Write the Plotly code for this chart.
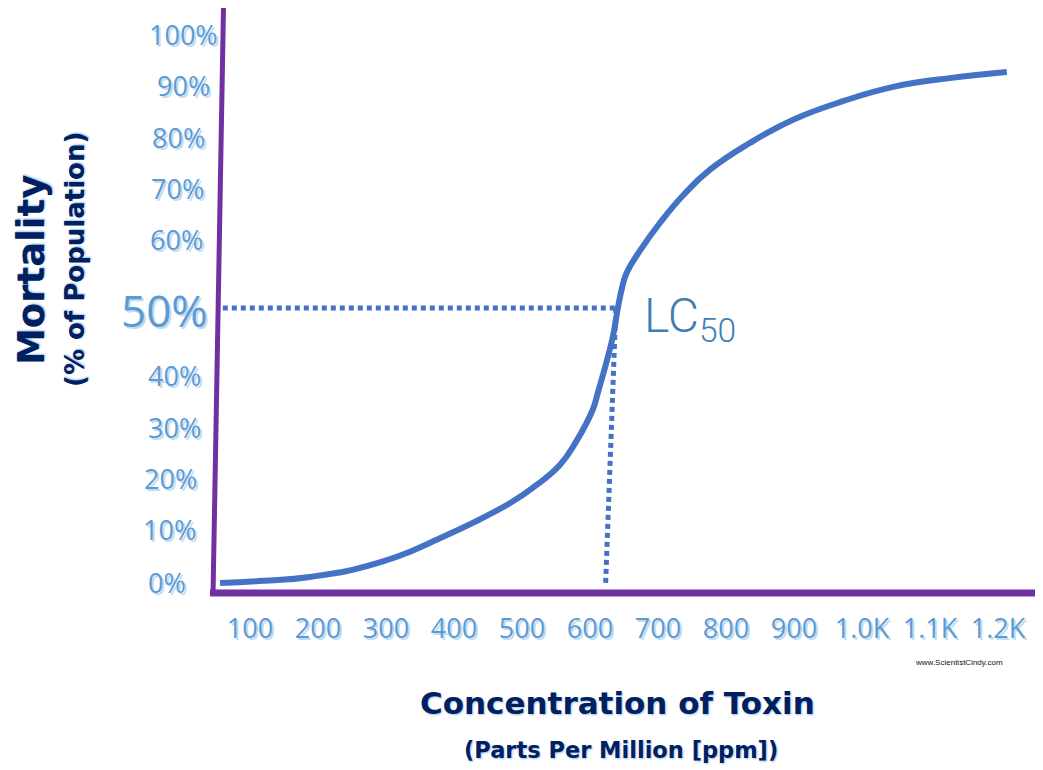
import plotly.graph_objects as go

# ---------------- data ----------------
conc = [56, 120, 188, 287, 384, 482, 519, 556, 580, 604, 612, 625, 634, 641, 647, 654, 675,
        703, 737, 776, 835, 898, 972, 1046, 1129, 1213]
mortality = [0, 0.4, 1.1, 3.6, 8.4, 14.5, 17.6, 21.5, 25.8, 31.5, 34.8, 40.5, 45.0, 50, 53.6, 56.4, 60.7,
             65.5, 70.5, 75.1, 80.0, 84.2, 87.6, 90.2, 91.8, 92.9]

lc50_h_x = [60, 640]
lc50_h_y = [50, 50]
lc50_v_x = [638, 623]
lc50_v_y = [50, 0]

x_tick_vals = [100, 200, 300, 400, 500, 600, 700, 800, 900, 1000, 1100, 1200]
x_tick_text = ["100", "200", "300", "400", "500", "600", "700", "800", "900", "1.0K", "1.1K", "1.2K"]

y_tick_vals = [100, 90, 80, 70, 60, 50, 40, 30, 20, 10, 0]
y_tick_text = ["100%", "90%", "80%", "70%", "60%", "50%", "40%", "30%", "20%", "10%", "0%"]

# ---------------- layout helpers (reference pixels -> paper) ----------------
OFF = 8                      # page body margin
W, H = 1043 - OFF, 770 - OFF
PLOT_X0, PLOT_X1 = 205, 1043   # plot area in reference pixels
PLOT_Y0, PLOT_Y1 = 8, 593
L = PLOT_X0 - OFF
T = PLOT_Y0 - OFF
B = H - (PLOT_Y1 - OFF)
R = W - (PLOT_X1 - OFF)
PW = PLOT_X1 - PLOT_X0
PH = PLOT_Y1 - PLOT_Y0


def px(xp):
    return (xp - PLOT_X0) / PW


def py(yp):
    return (PLOT_Y1 - yp) / PH


CURVE = "#4472C4"
PURPLE = "#7030A0"
NAVY = "#002060"
TICKBLUE = "#5B9BD5"
TICKSHADOW = "2px 2px 0px #c5dcf0"
TITLESHADOW = "1px 1px 2px #9dc3e6"

fig = go.Figure()

fig.add_trace(go.Scatter(
    x=lc50_h_x, y=lc50_h_y, mode="lines",
    line=dict(color=CURVE, width=5, dash="5px,4px"),
    hoverinfo="skip", showlegend=False))
fig.add_trace(go.Scatter(
    x=lc50_v_x, y=lc50_v_y, mode="lines",
    line=dict(color=CURVE, width=5, dash="5px,4px"),
    hoverinfo="skip", showlegend=False))
fig.add_trace(go.Scatter(
    x=conc, y=mortality, mode="lines",
    line=dict(color=CURVE, width=6, shape="spline", smoothing=1.3),
    showlegend=False))

# tilted y axis line and x axis line
fig.add_shape(type="line", xref="paper", yref="paper",
              x0=px(223.5), y0=py(7), x1=px(213), y1=py(596),
              line=dict(color=PURPLE, width=5))
fig.add_shape(type="line", xref="paper", yref="paper",
              x0=px(210), y0=py(593), x1=px(1043), y1=py(593),
              line=dict(color=PURPLE, width=7))

# y tick labels (annotations, pseudo-axis)
y_label_cx = [183.5, 183, 178, 177.5, 176, 164, 174.5, 174.5, 170.5, 169.5, 166.5]
y_label_cy = [34.5, 85.8, 137, 188.4, 239.7, 310, 375, 427, 478, 529, 582]
for v, t, cx, cy in zip(y_tick_vals, y_tick_text, y_label_cx, y_label_cy):
    big = (v == 50)
    fig.add_annotation(
        x=px(cx), y=v, xref="paper", yref="y",
        yshift=(583 - 5.5 * v) - cy,
        text=t, showarrow=False, xanchor="center", yanchor="middle",
        font=dict(family="Open Sans", size=44 if big else 27, color=TICKBLUE,
                  shadow=TICKSHADOW))

# LC50 label
fig.add_annotation(
    x=px(642), y=py(318), xref="paper", yref="paper",
    text="LC<sub>50</sub>", showarrow=False, xanchor="left", yanchor="middle",
    font=dict(family="Roboto", size=48, weight=300, color="#3F7FB5"))

# Axis titles
fig.add_annotation(x=px(617), y=py(703), xref="paper", yref="paper",
                   text="<b>Concentration of Toxin</b>", showarrow=False,
                   xanchor="center", yanchor="middle",
                   font=dict(family="DejaVu Sans", size=31, color=NAVY, shadow=TITLESHADOW))
fig.add_annotation(x=px(621), y=py(750), xref="paper", yref="paper",
                   text="<b>(Parts Per Million [ppm])</b>", showarrow=False,
                   xanchor="center", yanchor="middle",
                   font=dict(family="DejaVu Sans", size=22.5, color=NAVY, shadow=TITLESHADOW))
fig.add_annotation(x=px(31), y=py(270), xref="paper", yref="paper",
                   text="<b>Mortality</b>", showarrow=False, textangle=-90,
                   xanchor="center", yanchor="middle",
                   font=dict(family="DejaVu Sans", size=37, color=NAVY, shadow=TITLESHADOW))
fig.add_annotation(x=px(75), y=py(260), xref="paper", yref="paper",
                   text="<b>(% of Population)</b>", showarrow=False, textangle=-90,
                   xanchor="center", yanchor="middle",
                   font=dict(family="DejaVu Sans", size=26, color=NAVY, shadow=TITLESHADOW))
fig.add_annotation(x=px(959), y=py(662), xref="paper", yref="paper",
                   text="www.ScientistCindy.com", showarrow=False,
                   xanchor="center", yanchor="middle",
                   font=dict(family="Liberation Sans Narrow, Liberation Sans", size=8, color="#111111"))

fig.update_layout(
    width=W, height=H,
    margin=dict(l=L, r=R, t=T, b=B, pad=0),
    paper_bgcolor="white", plot_bgcolor="white",
    xaxis=dict(range=[100 + (PLOT_X0 - 250) / 0.68, 100 + (PLOT_X1 - 250) / 0.68],
               tickvals=x_tick_vals, ticktext=x_tick_text,
               showgrid=False, zeroline=False, showline=False, ticks="",
               ticklabelstandoff=17,
               tickfont=dict(family="Open Sans", size=27, color=TICKBLUE,
                             shadow=TICKSHADOW)),
    yaxis=dict(range=[(583 - PLOT_Y1) / 5.5, (583 - PLOT_Y0) / 5.5],
               showgrid=False, zeroline=False, showline=False,
               showticklabels=False, ticks=""),
)

fig.write_html("out.html")
